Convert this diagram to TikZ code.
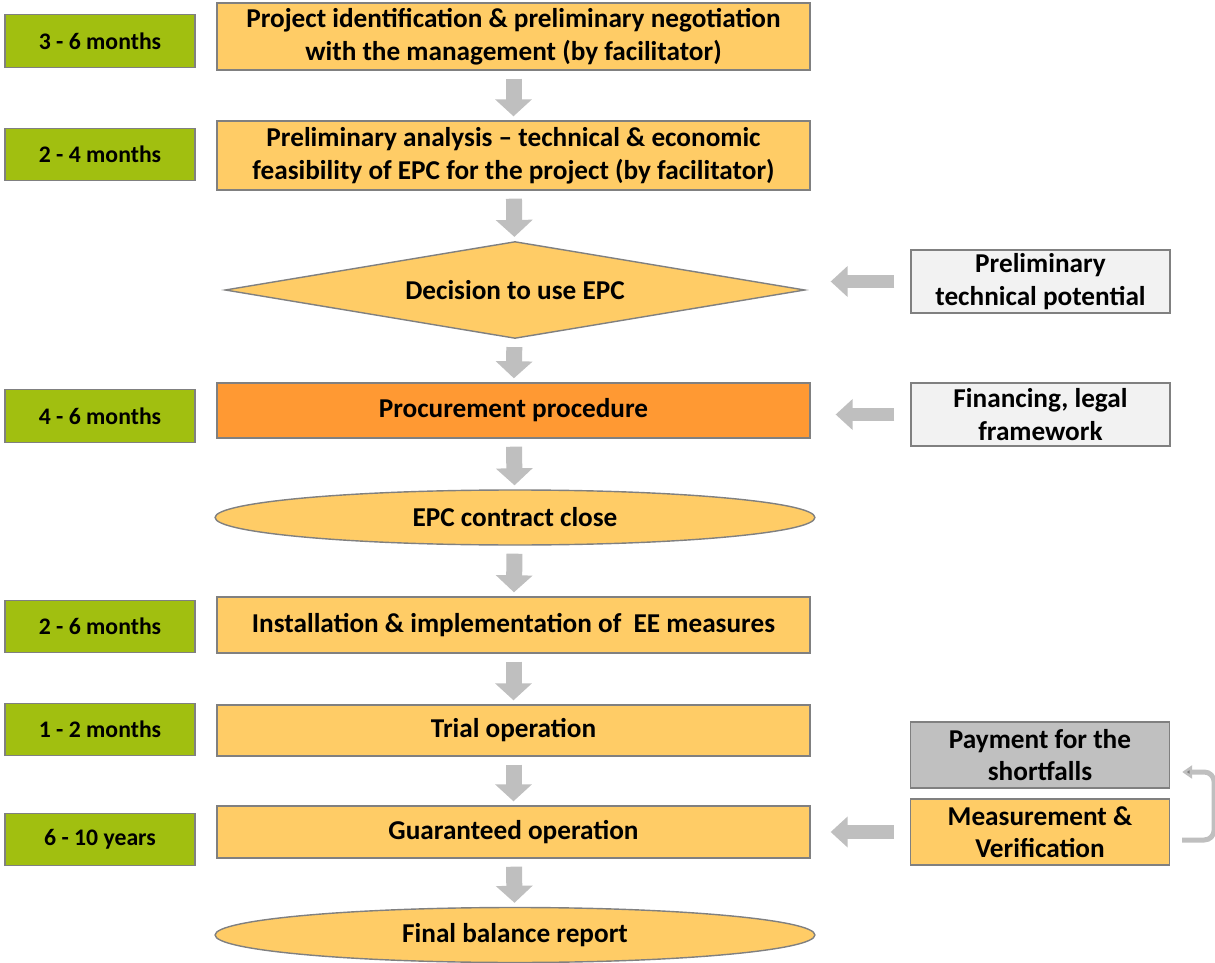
\documentclass[tikz,border=0pt]{standalone}
\usepackage{fontspec}
\setmainfont{Carlito}
\usetikzlibrary{arrows.meta, calc, positioning, shapes.geometric}
\definecolor{stagecol}{RGB}{255, 204, 102}
\definecolor{buycol}{RGB}{255, 153, 51}
\definecolor{timecol}{RGB}{161, 191, 16}
\definecolor{srccol}{RGB}{242, 242, 242}
\definecolor{paycol}{RGB}{192, 192, 192}
\definecolor{edgecol}{RGB}{128, 128, 128}
\definecolor{arrowcol}{RGB}{191, 191, 191}
\tikzset{
  blk/.style    = {draw=edgecol, line width=0.8pt, align=center, inner sep=2pt,
                   font=\bfseries\fontsize{15.5pt}{18.5pt}\selectfont},
  stage/.style  = {blk, fill=stagecol, minimum width=11.86cm},
  buy/.style    = {blk, fill=buycol, minimum width=11.86cm},
  oval/.style   = {blk, ellipse, fill=stagecol, minimum width=12cm,
                   minimum height=1.1cm, inner sep=0pt},
  choice/.style = {blk, diamond, aspect=6, fill=stagecol, inner sep=0pt,
                   minimum width=11.6cm, minimum height=1.94cm},
  dur/.style    = {blk, fill=timecol, minimum width=3.8cm,
                   minimum height=1.05cm,
                   font=\bfseries\fontsize{13.5pt}{16pt}\selectfont},
  src/.style    = {blk, fill=srccol, minimum width=5.18cm,
                   minimum height=1.26cm},
  % the two boxes beside the operation stage are taller
  side/.style   = {src, minimum height=1.32cm},
  drop/.style   = {draw=arrowcol, line width=0.32cm,
                   -{Triangle[width=0.72cm, length=0.34cm]},
                   shorten <=0.16cm, shorten >=0.08cm},
  feed/.style   = {draw=arrowcol, line width=0.28cm,
                   -{Triangle[width=0.6cm, length=0.34cm]},
                   shorten <=0.32cm, shorten >=0.5cm},
  back/.style   = {draw=arrowcol, line width=0.1cm, rounded corners=0.2cm,
                   -{Triangle[width=0.26cm, length=0.2cm, fill=edgecol]}},
}

\begin{document}
\begin{tikzpicture}[x=0.02cm, y=-0.02cm]
  \useasboundingbox (0,0) rectangle (1215,963);

  %% ---------------- the stages ----------------
  \node[stage, minimum height=1.34cm] (ident) at (513.5,36.5)
       {Project identification \& preliminary negotiation\\
        with the management (by facilitator)};
  \node[stage, minimum height=1.38cm] (feas) at (513.5,155.5)
       {Preliminary analysis -- technical \& economic\\
        feasibility of EPC for the project (by facilitator)};
  \node[choice] (dec) at (515,290) {Decision to use EPC};
  \node[buy, minimum height=1.1cm] (proc) at (513.5,410.5)
       {Procurement procedure};
  \node[oval] (close) at (515,517.5) {EPC contract close};
  \node[stage, minimum height=1.12cm] (inst) at (513.5,625)
       {Installation \& implementation of\ \ EE measures};
  \node[stage, minimum height=1.02cm] (trial) at (513.5,730.5)
       {Trial operation};
  \node[stage, minimum height=1.04cm] (guar) at (513.5,832)
       {Guaranteed operation};
  \node[oval] (final) at (515,935) {Final balance report};

  \draw[drop] (ident) -- (feas);
  \draw[drop] (feas) -- (dec);
  \draw[drop] (dec) -- (proc);
  \draw[drop] (proc) -- (close);
  \draw[drop] (close) -- (inst);
  \draw[drop] (inst) -- (trial);
  \draw[drop] (trial) -- (guar);
  \draw[drop] (guar) -- (final);

  %% ---------------- how long each one takes ----------------
  \node[dur] (t1) at (100,41)    {3 - 6 months};
  \node[dur] (t2) at (100,154.5) {2 - 4 months};
  \node[dur] (t3) at (100,416)   {4 - 6 months};
  \node[dur] (t4) at (100,626.5) {2 - 6 months};
  \node[dur] (t5) at (100,729.5) {1 - 2 months};
  \node[dur] (t6) at (100,839.5) {6 - 10 years};

  %% ---------------- what feeds in from the side ----------------
  \node[src] (pot) at (1040.5,281.5)
       {Preliminary\\technical potential};
  \node[src] (fin) at (1040.5,414.5)
       {Financing, legal\\framework};
  \node[side, fill=paycol] (pay) at (1040,755)
       {Payment for the\\shortfalls};
  \node[side, fill=stagecol] (mv) at (1040,832)
       {Measurement \&\\Verification};

  \draw[feed] (pot.west) -- (pot.west -| dec.east);
  \draw[feed] (fin.west) -- (fin.west -| proc.east);
  \draw[feed, shorten >=0.4cm] (mv.west) -- (mv.west -| guar.east);

  % a shortfall found by M&V is paid back
  \draw[back] ($(mv.east)+(12,8)$) -- ++(32,0)
              |- ($(pay.east)+(12,17)$);

\end{tikzpicture}
\end{document}
